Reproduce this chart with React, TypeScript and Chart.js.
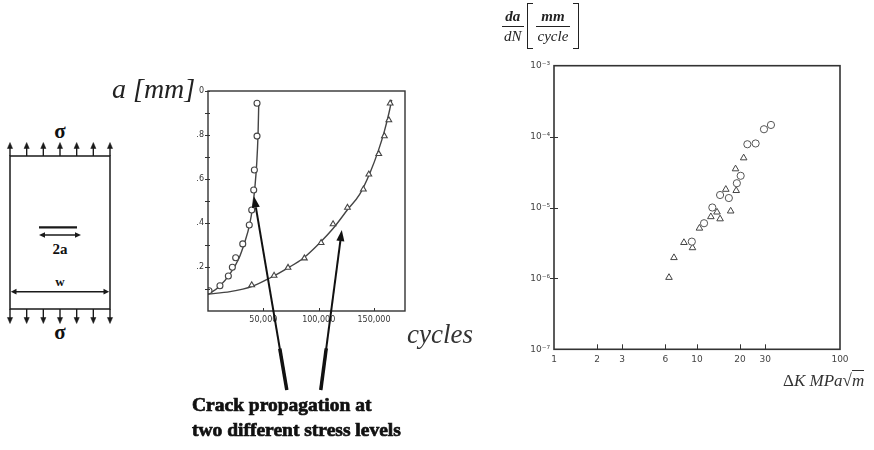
import React, { useEffect, useRef } from 'react';
import { Chart, registerables } from 'chart.js';

Chart.register(...registerables);

// ---------- Crack length vs cycles (middle chart) ----------
const circleCycles = [900, 10800, 18400, 22000, 25000, 31400, 37300, 39500, 41300, 41900, 44300, 44300];
const circleA = [0.092, 0.115, 0.159, 0.199, 0.242, 0.305, 0.391, 0.459, 0.55, 0.641, 0.795, 0.944];
const triangleCycles = [39500, 59700, 72300, 87100, 102200, 113000, 126000, 140400, 145300, 154300, 159400, 163400, 164600];
const triangleA = [0.118, 0.161, 0.197, 0.24, 0.31, 0.395, 0.47, 0.553, 0.621, 0.714, 0.795, 0.868, 0.944];
const circleFitCycles = [0, 10000, 20000, 28000, 33000, 37500, 40500, 42500, 44000, 45200, 45900];
const circleFitA = [0.075, 0.11, 0.17, 0.24, 0.31, 0.39, 0.48, 0.57, 0.67, 0.8, 0.95];
const triangleFitCycles = [0, 20000, 40000, 56000, 72000, 86000, 100000, 113000, 126000, 137000, 146500, 154000, 159500, 163500, 166000];
const triangleFitA = [0.077, 0.088, 0.112, 0.15, 0.195, 0.24, 0.305, 0.375, 0.46, 0.53, 0.63, 0.73, 0.82, 0.9, 0.96];
const aTickValues = [0.1, 0.2, 0.3, 0.4, 0.5, 0.6, 0.7, 0.8, 0.9, 1.0];
const aTickLabels = ['', '.2', '', '.4', '', '.6', '', '.8', '', '0'];
const cycleTickValues = [50000, 100000, 150000];
const cycleTickLabels = ['50,000', '100,000', '150,000'];
// arrows: tip [cycles, a], tail cycles (tail sits below the axis)
const arrowTips = [[41600, 0.52], [120900, 0.368]];
const arrowTailCycles = [71200, 101900];

// ---------- da/dN vs ΔK (right chart) ----------
const dkCircle = [32.9, 29.4, 25.7, 22.5, 20.2, 19.0, 16.7, 14.5, 12.8, 11.2, 9.2];
const rateCircle = [1.46e-4, 1.27e-4, 8.0e-5, 7.8e-5, 2.8e-5, 2.2e-5, 1.36e-5, 1.5e-5, 1.0e-5, 6.0e-6, 3.3e-6];
const dkTriangle = [21.2, 18.6, 18.8, 15.9, 17.2, 13.8, 12.5, 14.5, 10.4, 8.1, 9.3, 6.9, 6.37];
const rateTriangle = [5.0e-5, 3.5e-5, 1.73e-5, 1.8e-5, 8.9e-6, 8.6e-6, 7.4e-6, 6.9e-6, 5.1e-6, 3.2e-6, 2.7e-6, 1.96e-6, 1.03e-6];
const dkTickValues = [1, 2, 3, 6, 10, 20, 30, 100];
const dkTickLabels = ['1', '2', '3', '6', '10', '20', '30', '100'];
const rateTickValues = [1e-7, 1e-6, 1e-5, 1e-4, 1e-3];
const rateTickLabels = ['10⁻⁷', '10⁻⁶', '10⁻⁵', '10⁻⁴', '10⁻³'];

const specimenArrowXs = [10, 26.67, 43.33, 60, 76.67, 93.33, 110];

const zip = (xs: number[], ys: number[]) => xs.map((x, i) => ({ x, y: ys[i] }));

const framePlugin = {
  id: 'frame',
  afterDraw(chart: any, _args: any, opts: any) {
    const { ctx, chartArea: a, scales } = chart;
    ctx.save();
    ctx.strokeStyle = opts.color;
    ctx.lineWidth = opts.width;
    ctx.strokeRect(a.left, a.top, a.right - a.left, a.bottom - a.top);
    ctx.lineWidth = 1;
    ctx.beginPath();
    (opts.xTicks || []).forEach((v: number) => {
      const px = Math.round(scales.x.getPixelForValue(v)) + 0.5;
      ctx.moveTo(px, a.bottom);
      ctx.lineTo(px, a.bottom - opts.xTickLen);
    });
    (opts.yTicks || []).forEach((v: number) => {
      const py = Math.round(scales.y.getPixelForValue(v)) + 0.5;
      ctx.moveTo(a.left - opts.yOut, py);
      ctx.lineTo(a.left + opts.yIn, py);
    });
    ctx.stroke();
    ctx.restore();
  },
};

const pointerPlugin = {
  id: 'pointers',
  afterDraw(chart: any, _args: any, opts: any) {
    if (!opts || !opts.tips) return;
    const { ctx, chartArea: a, scales } = chart;
    ctx.save();
    ctx.strokeStyle = '#111';
    ctx.fillStyle = '#111';
    opts.tips.forEach((tip: number[], i: number) => {
      const tx = scales.x.getPixelForValue(tip[0]);
      const ty = scales.y.getPixelForValue(tip[1]);
      const bx = scales.x.getPixelForValue(opts.tails[i]);
      const by = a.bottom + opts.tailOffset;
      const ang = Math.atan2(ty - by, tx - bx);
      const hl = 11, hw = 4;
      const hx = tx - hl * Math.cos(ang), hy = ty - hl * Math.sin(ang);
      ctx.lineWidth = 2;
      ctx.beginPath();
      ctx.moveTo(bx, by);
      ctx.lineTo(hx, hy);
      ctx.stroke();
      const f = 42 / Math.hypot(tx - bx, ty - by);
      ctx.lineWidth = 3.5;
      ctx.beginPath();
      ctx.moveTo(bx, by);
      ctx.lineTo(bx + (tx - bx) * f, by + (ty - by) * f);
      ctx.stroke();
      ctx.beginPath();
      ctx.moveTo(tx, ty);
      ctx.lineTo(hx + hw * Math.sin(ang), hy - hw * Math.cos(ang));
      ctx.lineTo(hx - hw * Math.sin(ang), hy + hw * Math.cos(ang));
      ctx.closePath();
      ctx.fill();
    });
    ctx.restore();
  },
};

function useChart(ref: React.RefObject<HTMLCanvasElement>, makeConfig: () => any) {
  useEffect(() => {
    if (!ref.current) return;
    const chart = new Chart(ref.current, makeConfig());
    return () => chart.destroy();
  }, []);
}

const tickFont = { family: 'DejaVu Sans', size: 8 };
const noGrid = { display: false, drawTicks: false, tickLength: 0 };

function CrackChart() {
  const ref = useRef<HTMLCanvasElement>(null);
  useChart(ref, () => ({
    type: 'scatter',
    data: {
      datasets: [
        { data: zip(circleCycles, circleA), pointStyle: 'circle', pointRadius: 3, borderColor: '#444', backgroundColor: '#fff', borderWidth: 1.1 },
        { data: zip(triangleCycles, triangleA), pointStyle: 'triangle', pointRadius: 3.3, borderColor: '#444', backgroundColor: '#fff', borderWidth: 1.1 },
        { data: zip(circleFitCycles, circleFitA), showLine: true, pointRadius: 0, borderColor: '#444', borderWidth: 1.4, cubicInterpolationMode: 'monotone' },
        { data: zip(triangleFitCycles, triangleFitA), showLine: true, pointRadius: 0, borderColor: '#444', borderWidth: 1.4, cubicInterpolationMode: 'monotone' },
      ],
    },
    plugins: [framePlugin, pointerPlugin],
    options: {
      responsive: false,
      animation: false,
      events: [],
      layout: { padding: { left: 0, top: 31, right: 85, bottom: 0 } },
      plugins: {
        legend: { display: false },
        tooltip: { enabled: false },
        frame: { color: '#333', width: 1.4, xTicks: cycleTickValues, xTickLen: 3, yTicks: aTickValues, yOut: 3, yIn: 2 },
        pointers: { tips: arrowTips, tails: arrowTailCycles, tailOffset: 79 },
      },
      scales: {
        x: {
          type: 'linear', min: 0, max: 178000,
          afterBuildTicks: (s: any) => { s.ticks = cycleTickValues.map((v) => ({ value: v })); },
          afterFit: (s: any) => { s.height = 89; },
          grid: noGrid, border: { display: false },
          ticks: { autoSkip: false, maxRotation: 0, padding: 4, color: '#333', font: tickFont,
            callback: (v: number) => cycleTickLabels[cycleTickValues.indexOf(v)] ?? '' },
        },
        y: {
          type: 'linear', min: 0, max: 1.0,
          afterBuildTicks: (s: any) => { s.ticks = aTickValues.map((v) => ({ value: v })); },
          afterFit: (s: any) => { s.width = 58; },
          grid: noGrid, border: { display: false },
          ticks: { autoSkip: false, padding: 4, color: '#333', font: tickFont,
            callback: (v: number) => aTickLabels[aTickValues.indexOf(v)] ?? '' },
        },
      },
    },
  }));
  return <canvas ref={ref} width={340} height={340} style={{ position: 'absolute', left: 150, top: 60, width: 340, height: 340 }} />;
}

function RateChart() {
  const ref = useRef<HTMLCanvasElement>(null);
  useChart(ref, () => ({
    type: 'scatter',
    data: {
      datasets: [
        { data: zip(dkCircle, rateCircle), pointStyle: 'circle', pointRadius: 3.6, borderColor: '#555', backgroundColor: '#fff', borderWidth: 1 },
        { data: zip(dkTriangle, rateTriangle), pointStyle: 'triangle', pointRadius: 3.8, borderColor: '#444', backgroundColor: '#fff', borderWidth: 1 },
      ],
    },
    plugins: [framePlugin],
    options: {
      responsive: false,
      animation: false,
      events: [],
      layout: { padding: { left: 0, top: 30.7, right: 34, bottom: 0 } },
      plugins: {
        legend: { display: false },
        tooltip: { enabled: false },
        frame: { color: '#333', width: 1.6, xTicks: [2, 3, 6, 10, 20, 30], xTickLen: 5, yTicks: [1e-6, 1e-5, 1e-4], yOut: 4, yIn: 4 },
      },
      scales: {
        x: {
          type: 'logarithmic', min: 1, max: 100,
          afterBuildTicks: (s: any) => { s.ticks = dkTickValues.map((v) => ({ value: v })); },
          afterFit: (s: any) => { s.height = 30.7; },
          grid: noGrid, border: { display: false },
          ticks: { autoSkip: false, maxRotation: 0, padding: 5, color: '#444', font: { family: 'DejaVu Sans', size: 9 },
            callback: (v: number) => dkTickLabels[dkTickValues.indexOf(v)] ?? '' },
        },
        y: {
          type: 'logarithmic', min: 1e-7, max: 1e-3,
          afterBuildTicks: (s: any) => { s.ticks = rateTickValues.map((v) => ({ value: v })); },
          afterFit: (s: any) => { s.width = 54; },
          grid: noGrid, border: { display: false },
          ticks: { autoSkip: false, padding: 4, color: '#444', font: { family: 'DejaVu Sans', size: 9 },
            callback: (v: number) => rateTickLabels[rateTickValues.indexOf(v)] ?? '' },
        },
      },
    },
  }));
  return <canvas ref={ref} width={374} height={345} style={{ position: 'absolute', left: 500, top: 35, width: 374, height: 345 }} />;
}

function Specimen() {
  const stroke = '#1a1a1a';
  return (
    <svg width={130} height={345} style={{ position: 'absolute', left: 0, top: 0 }}>
      <g stroke={stroke} strokeWidth={1.5} fill="none">
        <rect x={10} y={156} width={100} height={153} />
        <line x1={14} y1={291.7} x2={106} y2={291.7} />
        <line x1={39} y1={227.3} x2={77} y2={227.3} strokeWidth={2.2} />
        <line x1={44} y1={235} x2={76} y2={235} />
      </g>
      {specimenArrowXs.map((x) => (
        <g key={'t' + x} stroke={stroke} fill={stroke}>
          <line x1={x} y1={156} x2={x} y2={147} strokeWidth={1.4} />
          <polygon points={`${x},142.5 ${x - 2.6},148.5 ${x + 2.6},148.5`} strokeWidth={0.5} />
          <line x1={x} y1={309} x2={x} y2={318} strokeWidth={1.4} />
          <polygon points={`${x},323.5 ${x - 2.6},317.5 ${x + 2.6},317.5`} strokeWidth={0.5} />
        </g>
      ))}
      <g fill={stroke}>
        <polygon points="10.8,291.7 16.5,288.8 16.5,294.6" />
        <polygon points="109.2,291.7 103.5,288.8 103.5,294.6" />
        <polygon points="39,235 45,232.2 45,237.8" />
        <polygon points="81,235 75,232.2 75,237.8" />
      </g>
      <g fill="#111" fontFamily="'Liberation Serif', serif" fontWeight="bold" textAnchor="middle">
        <text x={60} y={137.5} fontSize={21}>σ</text>
        <text x={60} y={339} fontSize={21}>σ</text>
        <text x={60} y={253.5} fontSize={15}>2a</text>
        <text x={60} y={286} fontSize={13}>w</text>
      </g>
    </svg>
  );
}

const serif = "'Liberation Serif', 'DejaVu Serif', serif";

function Frac({ top, bottom, topBold }: { top: string; bottom: string; topBold?: boolean }) {
  return (
    <div style={{ display: 'inline-flex', flexDirection: 'column', alignItems: 'center', fontFamily: serif, fontStyle: 'italic', lineHeight: '15px' }}>
      <span style={{ fontSize: 15, fontWeight: topBold ? 'bold' : 'normal', padding: '0 2px' }}>{top}</span>
      <span style={{ alignSelf: 'stretch', borderTop: '1.3px solid #222', margin: '2px 0' }} />
      <span style={{ fontSize: 15, padding: '0 2px' }}>{bottom}</span>
    </div>
  );
}

function Bracket({ side }: { side: 'left' | 'right' }) {
  const b = '1.4px solid #222';
  return (
    <div style={{ width: 5, height: 44, borderTop: b, borderBottom: b, borderLeft: side === 'left' ? b : 'none', borderRight: side === 'right' ? b : 'none', margin: '0 3px' }} />
  );
}

export default function App() {
  return (
    <div style={{ position: 'absolute', left: 0, top: 0, width: 874, height: 450, background: '#fff', overflow: 'hidden', color: '#222' }}>
      <Specimen />
      <CrackChart />
      <RateChart />
      <div style={{ position: 'absolute', left: 112, top: 75, fontFamily: serif, fontStyle: 'italic', fontSize: 28, lineHeight: '28px', whiteSpace: 'nowrap' }}>a [mm]</div>
      <div style={{ position: 'absolute', left: 407, top: 321, fontFamily: serif, fontStyle: 'italic', fontSize: 27, lineHeight: '27px', color: '#333' }}>cycles</div>
      <div style={{ position: 'absolute', left: 192, top: 392, fontFamily: serif, fontWeight: 'bold', fontSize: 19.5, lineHeight: '25px', color: '#111', WebkitTextStroke: '0.7px #111', whiteSpace: 'nowrap' }}>
        <div>Crack propagation at</div>
        <div>two different stress levels</div>
      </div>
      <div style={{ position: 'absolute', left: 502, top: 3, display: 'flex', alignItems: 'center' }}>
        <Frac top="da" bottom="dN" topBold />
        <Bracket side="left" />
        <Frac top="mm" bottom="cycle" topBold />
        <Bracket side="right" />
      </div>
      <div style={{ position: 'absolute', left: 783, top: 371, fontFamily: serif, fontStyle: 'italic', fontSize: 17, lineHeight: '20px', whiteSpace: 'nowrap', color: '#333' }}>
        <span style={{ fontStyle: 'normal' }}>Δ</span>K MPa<span style={{ fontStyle: 'normal' }}>√</span><span style={{ borderTop: '1px solid #333' }}>m</span>
      </div>
    </div>
  );
}
